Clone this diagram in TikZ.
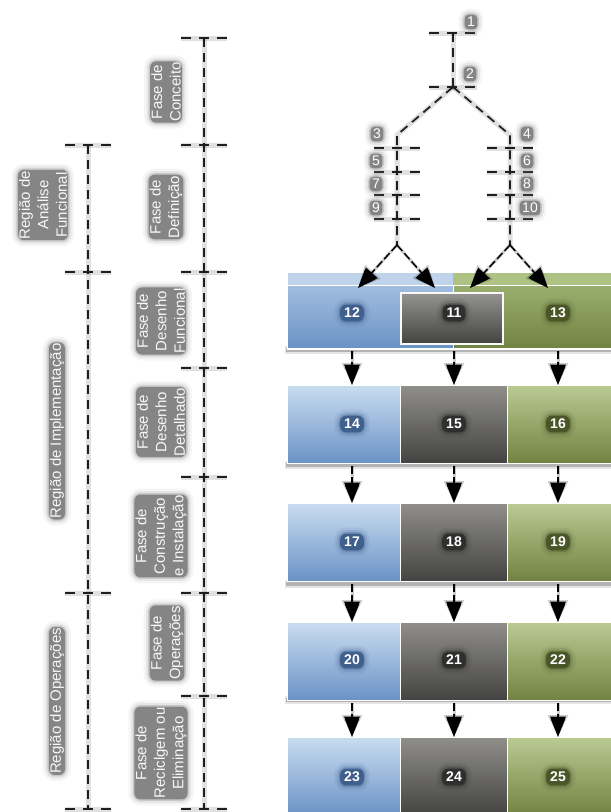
\documentclass[tikz,border=0pt]{standalone}
\usepackage{fontspec}
\setmainfont{Liberation Sans}
\usetikzlibrary{arrows.meta,calc}

\definecolor{bluetop}{HTML}{C9DCF0}
\definecolor{bluebot}{HTML}{6A92C6}
\definecolor{bluestrip}{HTML}{BFD3EA}
\definecolor{bluehigh}{HTML}{ADC6E3}
\definecolor{graytop}{HTML}{8F8E8A}
\definecolor{graybot}{HTML}{434341}
\definecolor{greentop}{HTML}{B9CA94}
\definecolor{greenbot}{HTML}{728241}
\definecolor{greenstrip}{HTML}{ADC283}
\definecolor{greenhigh}{HTML}{A2B878}
\definecolor{labelgray}{HTML}{858585}
\definecolor{bluebadge}{HTML}{3F5F8C}
\definecolor{graybadge}{HTML}{2F2F2E}
\definecolor{greenbadge}{HTML}{4A5628}
\definecolor{inkline}{HTML}{1E1E1E}

\begin{document}
\begin{tikzpicture}[x=1pt,y=-1pt,
  softglow/.style={
    preaction={draw=#1,draw opacity=.08,line width=12pt},
    preaction={draw=#1,draw opacity=.15,line width=7pt},
    preaction={draw=#1,draw opacity=.30,line width=3pt}},
  phase/.style={rotate=90,align=center,fill=labelgray,rounded corners=6pt,
    text=white!94!gray,font=\fontsize{15}{18.5}\selectfont,inner sep=1pt,
    softglow=labelgray},
  num/.style={fill=labelgray,rounded corners=4pt,text=white,
    font=\fontsize{14}{14}\selectfont,inner xsep=2.5pt,inner ysep=2.5pt,
    softglow=labelgray},
  badge/.style={fill=#1,rounded corners=6pt,text=white,
    font=\bfseries\fontsize{14}{14}\selectfont,inner xsep=4pt,inner ysep=3.5pt,
    softglow=#1},
  axisline/.style={draw=inkline,line width=1.7pt,dash pattern=on 9pt off 6pt,
    preaction={draw=black,draw opacity=.12,line width=5pt}},
  tickline/.style={draw=inkline,line width=1.7pt,dash pattern=on 10pt off 8pt,
    preaction={draw=black,draw opacity=.12,line width=5pt}},
  cell/.style={rectangle,inner sep=0pt,draw=white,line width=1pt,anchor=north west},
  bluecell/.style={cell,top color=bluetop,bottom color=bluebot},
  graycell/.style={cell,top color=graytop,bottom color=graybot},
  greencell/.style={cell,top color=greentop,bottom color=greenbot},
  flow/.style={draw=black,line width=1.5pt,dash pattern=on 8pt off 3pt,
    -{Triangle[width=14pt,length=18pt]},
    preaction={draw=black,draw opacity=.2,solid,line width=3pt,
      -{Triangle[width=20pt,length=22pt]}}}
]
\useasboundingbox (0,0) rectangle (611,812);
\clip (0,0) rectangle (611,812);

% ---------- time axes (regions and phases) ----------
\foreach \y [count=\i] in {145,272,593,809}
  \coordinate (ra\i) at (88,\y);
\foreach \y [count=\i] in {38,145,272,368,477,593,696,809}
  \coordinate (pa\i) at (204,\y);
\draw[axisline] (ra1) -- (ra4);
\draw[axisline] (pa1) -- (pa8);
\foreach \i in {1,...,4}
  \draw[tickline] ($(ra\i)+(-23,0)$) -- ($(ra\i)+(23,0)$);
\foreach \i in {1,...,8}
  \draw[tickline] ($(pa\i)+(-23,0)$) -- ($(pa\i)+(23,0)$);

% ---------- region and phase labels ----------
\node[phase] (rAnalise) at (43,205) {Região de\\Análise\\Funcional};
\node[phase] (rImpl) at (57,431) {Região de Implementação};
\node[phase] (rOper) at (57,701) {Região de Operações};
\node[phase] (fConceito) at (166,92) {Fase de\\Conceito};
\node[phase] (fDefinicao) at (166,207) {Fase de\\Definição};
\node[phase] (fDesFunc) at (161,321) {Fase de\\Desenho\\Funcional};
\node[phase] (fDesDet) at (161,422) {Fase de\\Desenho\\Detalhado};
\node[phase] (fConstr) at (161,536) {Fase de\\Construção\\e Instalação};
\node[phase] (fOper) at (167,643) {Fase de\\Operações};
\node[phase] (fRecic) at (161,753) {Fase de\\Reciclgem ou\\Eliminação};

% ---------- concept / definition tree ----------
\coordinate (t1) at (453,33);
\coordinate (t2) at (453,87);
\coordinate (a3) at (397,135);
\coordinate (a4) at (510,135);
\coordinate (sL) at (397,245);
\coordinate (sR) at (510,245);
\foreach \y [count=\i] in {148,172,195,219} {
  \coordinate (kl\i) at (397,\y);
  \coordinate (kr\i) at (510,\y);
}
\draw[axisline] (t1) -- (t2);
\draw[axisline] (t2) -- (a3) -- (sL);
\draw[axisline] (t2) -- (a4) -- (sR);
\draw[tickline] ($(t1)+(-24,0)$) -- ($(t1)+(24,0)$);
\draw[tickline] ($(t2)+(-24,0)$) -- ($(t2)+(24,0)$);
\foreach \i in {1,...,4} {
  \draw[tickline] ($(kl\i)+(-23,0)$) -- ($(kl\i)+(23,0)$);
  \draw[tickline] ($(kr\i)+(-23,0)$) -- ($(kr\i)+(23,0)$);
}
\node[num] (m1) at (471,22) {1};
\node[num] (m2) at (470,74) {2};
\node[num] (m3) at (377,134) {3};
\node[num] (m4) at (527,134) {4};
\node[num] (m5) at (376,161) {5};
\node[num] (m6) at (527,161) {6};
\node[num] (m7) at (376,184) {7};
\node[num] (m8) at (527,184) {8};
\node[num] (m9) at (376,208) {9};
\node[num] (m10) at (530,208) {10};

% ---------- row shadows ----------
\foreach \yt/\yb in {272/348,385/463,503/582,622/698} {
  \fill[black,opacity=.10] (285,\yb-2) rectangle (620,\yb+6);
  \fill[black,opacity=.22] (286,\yb) rectangle (620,\yb+3.5);
}

% ---------- row 1: functional design ----------
\node[cell,top color=bluehigh,bottom color=bluebot,minimum width=166pt,minimum height=76pt]
  (b12) at (287,272) {};
\node[cell,top color=greenhigh,bottom color=greenbot,minimum width=167pt,minimum height=76pt]
  (b13) at (453,272) {};
\fill[bluestrip] ($(b12.north west)+(0.5,0.5)$) rectangle ($(b12.north east)+(0,13)$);
\fill[greenstrip] ($(b13.north west)+(0,0.5)$) rectangle ($(b13.north east)+(0,13)$);
\draw[white,line width=1pt] ($(b12.north west)+(0,13)$) -- ($(b13.north east)+(0,13)$);
\draw[white,line width=1pt] (b12.north west) rectangle (b13.south east);
\node[cell,draw=white!95!gray,line width=1.5pt,minimum width=102pt,minimum height=51pt,
  top color=graytop!95!white,bottom color=graybot]
  (b11) at (400,292) {};

% ---------- rows 2 to 5 ----------
\foreach \yt/\na/\nb/\nc in {385/14/15/16, 503/17/18/19, 622/20/21/22, 737/23/24/25} {
  \node[bluecell,minimum width=113pt,minimum height=78pt] (b\na) at (287,\yt) {};
  \node[graycell,minimum width=107pt,minimum height=78pt] (b\nb) at (400,\yt) {};
  \node[greencell,minimum width=113pt,minimum height=78pt] (b\nc) at (507,\yt) {};
}

% ---------- cell numbers ----------
\node[badge=bluebadge] (n12) at (352,313) {12};
\node[badge=graybadge] (n11) at (454,313) {11};
\node[badge=greenbadge] (n13) at (558,313) {13};
\foreach \a/\b/\c/\y in {14/15/16/424, 17/18/19/542, 20/21/22/660, 23/24/25/777} {
  \node[badge=bluebadge] (n\a) at (352,\y) {\a};
  \node[badge=graybadge] (n\b) at (454,\y) {\b};
  \node[badge=greenbadge] (n\c) at (558,\y) {\c};
}

% ---------- arrows from the tree into row 1 ----------
\coordinate (h12) at (358,288);
\coordinate (h11l) at (435,288);
\coordinate (h11r) at (470,288);
\coordinate (h13) at (548,288);
\foreach \s/\e in {sL/h12, sL/h11l, sR/h11r, sR/h13}
  \draw[flow] (\s) -- (\e);

% ---------- arrows between rows ----------
\foreach \u/\v/\w in {12/12/14, 11/12/15, 13/12/16, 14/14/17, 15/14/18, 16/14/19,
                      17/17/20, 18/17/21, 19/17/22, 20/20/23, 21/20/24, 22/20/25}
  \draw[flow,shorten <=2pt] (n\u |- b\v.south) -- (n\w |- b\w.north);
\end{tikzpicture}
\end{document}
